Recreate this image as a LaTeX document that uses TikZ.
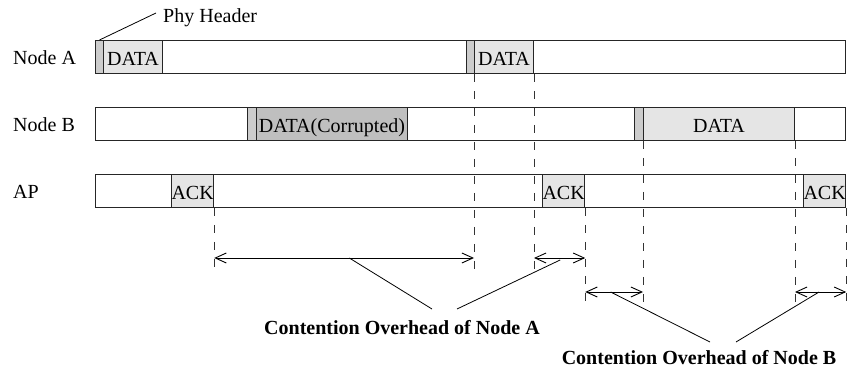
\documentclass[tikz,border=0pt]{standalone}
\usepackage{fontspec}
\setmainfont{Liberation Serif}
\usetikzlibrary{arrows.meta,calc}

\begin{document}
\begin{tikzpicture}[x=1pt,y=-1pt,
  every node/.style={font=\fontsize{20}{24}\selectfont},
  rowlabel/.style={anchor=base west, inner sep=0pt},
  lane/.style={draw=black!85, line width=1pt, fill=white, minimum height=33pt,
    inner sep=0pt, anchor=north west, text height=18pt, text depth=1pt},
  hdr/.style={lane, fill=black!20},
  pkt/.style={lane, fill=black!10},
  badpkt/.style={lane, fill=black!25},
  guide/.style={draw=black!80, line width=0.9pt, dash pattern=on 8pt off 9pt},
  span/.style={line width=0.9pt, {Straight Barb[length=11pt,width=10pt]}-{Straight Barb[length=11pt,width=10pt]}},
  leader/.style={line width=0.8pt},
  caption/.style={font=\fontsize{20}{24}\selectfont\bfseries, anchor=base}
]
\useasboundingbox (0,0) rectangle (849,374);

% row labels
\node[rowlabel] (lblA) at (13,65) {Node A};
\node[rowlabel] (lblB) at (13,132) {Node B};
\node[rowlabel] (lblAP) at (13,199) {AP};

% time lanes
\node[lane, minimum width=750pt] (laneA) at (95,40) {};
\node[lane, minimum width=750pt] (laneB) at (95,107) {};
\node[lane, minimum width=750pt] (laneAP) at (95,174) {};

% Node A frames
\node[hdr, minimum width=8pt] (hA1) at (95,40) {};
\node[pkt, minimum width=59pt] (dA1) at (103,40) {DATA};
\node[hdr, minimum width=8pt] (hA2) at (466,40) {};
\node[pkt, minimum width=59pt] (dA2) at (474,40) {DATA};

% Node B frames
\node[hdr, minimum width=9pt] (hB1) at (247,107) {};
\node[badpkt, minimum width=151pt] (dB1) at (256,107) {DATA(Corrupted)};
\node[hdr, minimum width=9pt] (hB2) at (634,107) {};
\node[pkt, minimum width=151pt] (dB2) at (643,107) {DATA};

% AP acknowledgements
\node[pkt, minimum width=42pt] (k1) at (171,174) {ACK};
\node[pkt, minimum width=42pt] (k2) at (542,174) {ACK};
\node[pkt, minimum width=42pt] (k3) at (803,174) {ACK};

% header callout
\node[anchor=base west, inner sep=0pt] (phy) at (163,23) {Phy Header};
\coordinate (phytip) at (156,13);
\draw[leader] (hA1.north) -- (phytip);

% reference levels
\coordinate (lowA) at (0,274);
\coordinate (lowB) at (0,308);
\coordinate (arrA) at (0,258);
\coordinate (arrB) at (0,292);

% timing guides
\draw[guide] (k1.south east) -- (k1.south east |- lowA);
\draw[guide] (dA2.south west) -- (dA2.south west |- lowA);
\draw[guide] (dA2.south east) -- (dA2.south east |- lowA);
\draw[guide] (k2.south east) -- (k2.south east |- lowB);
\draw[guide] (dB2.south west) -- (dB2.south west |- lowB);
\draw[guide] (dB2.south east) -- (dB2.south east |- lowB);
\draw[guide] (k3.south east) -- (k3.south east |- lowB);

% contention intervals
\coordinate (sA1l) at (k1.south east |- arrA);
\coordinate (sA1r) at (dA2.south west |- arrA);
\coordinate (sA2l) at (dA2.south east |- arrA);
\coordinate (sA2r) at (k2.south east |- arrA);
\coordinate (sB1l) at (k2.south east |- arrB);
\coordinate (sB1r) at (dB2.south west |- arrB);
\coordinate (sB2l) at (dB2.south east |- arrB);
\coordinate (sB2r) at (k3.south east |- arrB);
\draw[span] (sA1l) -- (sA1r);
\draw[span] (sA2l) -- (sA2r);
\draw[span] (sB1l) -- (sB1r);
\draw[span] (sB2l) -- (sB2r);

% captions and leaders
\node[caption] (capA) at (402,334) {Contention Overhead of Node A};
\node[caption] (capB) at (699,364) {Contention Overhead of Node B};
\coordinate (tA1) at (432,309);
\coordinate (tA2) at (457,309);
\coordinate (tB1) at (710,342);
\coordinate (tB2) at (736,342);
\draw[leader] ($(sA1l)!0.52!(sA1r)$) -- (tA1);
\draw[leader] ($(sA2l)!0.51!(sA2r)+(0,2)$) -- (tA2);
\draw[leader] ($(sB1l)!0.44!(sB1r)$) -- (tB1);
\draw[leader] ($(sB2l)!0.47!(sB2r)$) -- (tB2);
\end{tikzpicture}
\end{document}
